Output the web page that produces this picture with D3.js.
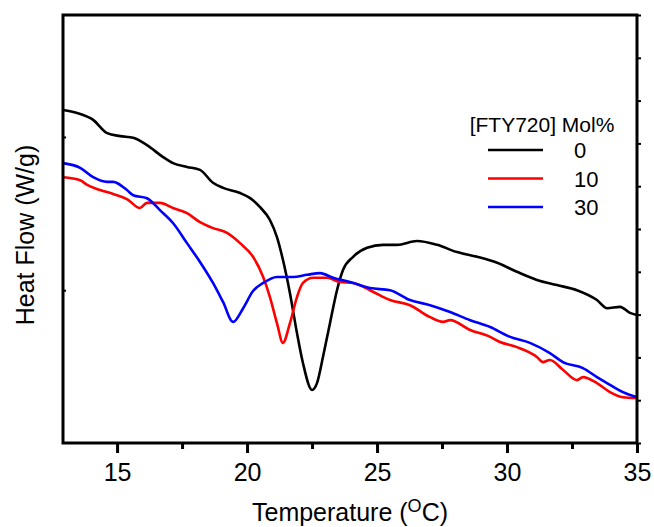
<!DOCTYPE html>
<html>
<head>
<meta charset="utf-8">
<script src="https://cdn.jsdelivr.net/npm/d3@7"></script>
<style>
  body { margin: 0; background: #fff; }
  svg { display: block; font-family: Arial, "Liberation Sans", sans-serif; }
</style>
</head>
<body>
<svg width="654" height="527"></svg>
<script>
// temperature (oC) and heat flow (arbitrary units)
const temp0 = [12.92, 13.46, 14.08, 14.62, 15.12, 15.62, 16.15, 16.77, 17.15, 17.69, 18.19, 18.69, 19.08, 19.73, 20.12, 20.50, 20.88, 21.15, 21.38, 21.65, 21.92, 22.15, 22.50, 22.69, 22.92, 23.19, 23.46, 23.69, 24.08, 24.62, 25.23, 25.77, 26.54, 27.31, 28.08, 28.85, 29.62, 30.38, 31.15, 31.92, 32.69, 33.46, 33.85, 34.35, 34.73, 35.0]
const flow0 = [7.78, 7.71, 7.55, 7.24, 7.17, 7.13, 6.96, 6.68, 6.54, 6.45, 6.38, 6.08, 5.96, 5.84, 5.72, 5.51, 5.21, 4.81, 4.28, 3.50, 2.57, 1.87, 1.24, 1.40, 2.01, 2.80, 3.57, 4.04, 4.35, 4.56, 4.63, 4.63, 4.72, 4.63, 4.46, 4.35, 4.21, 4.00, 3.81, 3.69, 3.57, 3.34, 3.15, 3.18, 3.04, 2.99]

const temp10 = [12.92, 13.58, 13.85, 14.35, 14.85, 15.38, 15.88, 16.15, 16.65, 17.15, 17.69, 18.19, 18.69, 19.23, 19.73, 20.23, 20.62, 20.88, 21.15, 21.38, 21.65, 21.92, 22.15, 22.54, 23.08, 23.58, 24.08, 24.73, 25.50, 26.27, 27.04, 27.54, 27.81, 28.58, 29.35, 29.73, 30.38, 31.15, 31.38, 31.65, 32.15, 32.69, 32.92, 33.46, 33.96, 34.46, 35.0]
const flow10 = [6.21, 6.14, 6.03, 5.91, 5.82, 5.70, 5.49, 5.61, 5.61, 5.49, 5.37, 5.16, 5.02, 4.91, 4.67, 4.35, 3.88, 3.41, 2.80, 2.34, 2.80, 3.41, 3.74, 3.86, 3.86, 3.76, 3.74, 3.57, 3.34, 3.22, 2.94, 2.83, 2.87, 2.64, 2.48, 2.36, 2.24, 2.01, 1.89, 1.94, 1.71, 1.47, 1.54, 1.40, 1.19, 1.07, 1.05]

const temp30 = [12.92, 13.58, 14.08, 14.62, 14.85, 15.38, 15.62, 16.15, 16.65, 17.15, 17.69, 18.19, 18.69, 19.08, 19.46, 19.85, 20.23, 20.62, 21.15, 21.77, 22.31, 22.81, 23.31, 23.96, 24.73, 25.50, 26.27, 27.04, 27.81, 28.58, 29.35, 30.12, 30.88, 31.65, 32.15, 32.92, 33.46, 33.96, 34.46, 35.0]
const flow30 = [6.54, 6.43, 6.21, 6.10, 6.10, 5.91, 5.79, 5.72, 5.44, 5.14, 4.67, 4.23, 3.74, 3.29, 2.83, 3.15, 3.55, 3.74, 3.88, 3.88, 3.93, 3.97, 3.86, 3.76, 3.62, 3.57, 3.34, 3.22, 3.06, 2.87, 2.71, 2.48, 2.34, 2.10, 1.89, 1.75, 1.54, 1.36, 1.19, 1.07]

const seriesNames = ['0', '10', '30']
const seriesColors = ['#000000', '#ff0000', '#0000ff']
const xTicks = [15, 20, 25, 30, 35]
const xMinorTicks = [17.5, 22.5, 27.5, 32.5]
const yLeftTicks = [3.57, 7.15]
const yRightTicks = [0, 1, 2, 3, 4, 5, 6, 7, 8, 9, 10]

const svg = d3.select('svg')
const margin = { left: 63, right: 17, top: 15, bottom: 84 }
const width = 654 - margin.left - margin.right
const height = 527 - margin.top - margin.bottom

const x = d3.scaleLinear().domain([12.92, 35]).range([0, width])
const y = d3.scaleLinear().domain([0, 10]).range([height, 0])

const g = svg.append('g').attr('transform', `translate(${margin.left},${margin.top})`)

const series = [
    { name: seriesNames[0], color: seriesColors[0], values: temp0.map((t, i) => [t, flow0[i]]) },
    { name: seriesNames[1], color: seriesColors[1], values: temp10.map((t, i) => [t, flow10[i]]) },
    { name: seriesNames[2], color: seriesColors[2], values: temp30.map((t, i) => [t, flow30[i]]) }
]

const line = d3.line()
    .x(d => x(d[0]))
    .y(d => y(d[1]))
    .curve(d3.curveMonotoneX)

g.append('defs').append('clipPath').attr('id', 'clip')
    .append('rect').attr('width', width).attr('height', height)

g.append('g').attr('clip-path', 'url(#clip)')
    .selectAll('path')
    .data(series)
    .enter().append('path')
    .attr('d', d => line(d.values))
    .attr('fill', 'none')
    .attr('stroke', d => d.color)
    .attr('stroke-width', 2.6)
    .attr('stroke-linejoin', 'round')

// frame
g.append('rect')
    .attr('width', width).attr('height', height)
    .attr('fill', 'none').attr('stroke', '#000').attr('stroke-width', 3)

// x axis
const xAxis = g.append('g')
    .attr('transform', `translate(0,${height})`)
    .call(d3.axisBottom(x).tickValues(xTicks).tickSize(10).tickPadding(10).tickFormat(d3.format('d')))
xAxis.select('.domain').remove()
xAxis.selectAll('line').attr('stroke-width', 3)
xAxis.selectAll('text').attr('font-size', 25).attr('font-family', 'Arial, "Liberation Sans", sans-serif').attr('fill', '#000')

const xMinor = g.append('g')
    .attr('transform', `translate(0,${height})`)
    .call(d3.axisBottom(x).tickValues(xMinorTicks).tickSize(6).tickFormat(''))
xMinor.select('.domain').remove()
xMinor.selectAll('line').attr('stroke-width', 3)

// y ticks (no labels)
const yLeft = g.append('g')
    .call(d3.axisRight(y).tickValues(yLeftTicks).tickSize(3).tickFormat(''))
yLeft.select('.domain').remove()
yLeft.selectAll('line').attr('stroke-width', 2)

const yRight = g.append('g')
    .attr('transform', `translate(${width},0)`)
    .call(d3.axisRight(y).tickValues(yRightTicks).tickSize(4).tickFormat(''))
yRight.select('.domain').remove()
yRight.selectAll('line').attr('stroke-width', 2)

// axis titles
const xTitle = svg.append('text')
    .attr('x', margin.left + width / 2)
    .attr('y', 521)
    .attr('text-anchor', 'middle')
    .attr('font-size', 25)
xTitle.append('tspan').text('Temperature (')
xTitle.append('tspan').attr('font-size', 18).attr('dy', -9).text('O')
xTitle.append('tspan').attr('dy', 9).text('C)')

svg.append('text')
    .attr('transform', `translate(34,${margin.top + height / 2 + 6}) rotate(-90)`)
    .attr('text-anchor', 'middle')
    .attr('font-size', 25)
    .text('Heat Flow (W/g)')

// legend
const legend = svg.append('g')
legend.append('text')
    .attr('x', 542).attr('y', 132)
    .attr('text-anchor', 'middle')
    .attr('font-size', 21)
    .text('[FTY720] Mol%')

const items = legend.selectAll('.item')
    .data(series)
    .enter().append('g')
    .attr('class', 'item')
    .attr('transform', (d, i) => `translate(488,${150 + i * 28.5})`)
items.append('line')
    .attr('x1', 0).attr('x2', 55)
    .attr('stroke', d => d.color).attr('stroke-width', 2.6)
items.append('text')
    .attr('x', 86).attr('y', 8)
    .attr('font-size', 22)
    .text(d => d.name)
</script>
</body>
</html>
